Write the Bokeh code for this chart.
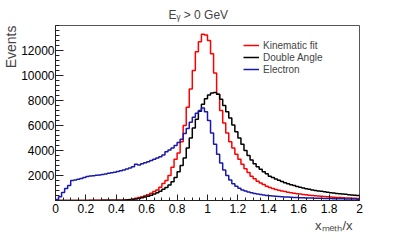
import numpy as np
from bokeh.plotting import figure
from bokeh.models import Range1d, FixedTicker, Legend, LegendItem, Title
from bokeh.embed import file_html
from bokeh.resources import INLINE

# ---- data ----
x_min, x_max, n_bins = 0.0, 2.0, 100

kinematic_fit = [
    2, 3, 3, 4, 5, 5, 6, 7, 8, 9,
    10, 11, 12, 13, 14, 15, 16, 18, 20, 22,
    25, 30, 40, 60, 90, 130, 180, 240, 300, 380,
    470, 580, 720, 850, 1070, 1360, 1600, 2000, 2670, 3300,
    3800, 4700, 6000, 7470, 8930, 10400, 11900, 12700, 13300, 13250,
    12800, 11750, 10200, 8500, 7200, 6200, 5400, 4700, 4200, 3700,
    3300, 2900, 2550, 2250, 1950, 1750, 1550, 1400, 1280, 1150,
    1050, 960, 890, 820, 770, 720, 670, 620, 580, 550,
    520, 490, 460, 430, 410, 390, 370, 350, 330, 310,
    290, 270, 250, 240, 230, 210, 200, 190, 180, 170,
]

double_angle = [
    1, 1, 2, 2, 3, 3, 4, 4, 5, 5,
    6, 7, 8, 9, 10, 11, 12, 13, 15, 17,
    20, 25, 30, 40, 60, 90, 130, 170, 220, 280,
    350, 430, 520, 620, 750, 900, 1050, 1250, 1500, 1850,
    2300, 2800, 3400, 4200, 5000, 5800, 6500, 7150, 7700, 8150,
    8450, 8600, 8650, 8500, 8100, 7600, 7100, 6600, 6050, 5500,
    5000, 4500, 4000, 3600, 3250, 2950, 2700, 2500, 2300, 2150,
    1950, 1850, 1720, 1620, 1520, 1420, 1340, 1270, 1200, 1130,
    1070, 1010, 950, 900, 850, 800, 760, 740, 700, 660,
    630, 600, 570, 540, 520, 500, 470, 450, 430, 410,
]

electron = [
    80, 300, 640, 960, 1200, 1600, 1650, 1700, 1760, 1850,
    1920, 1960, 1990, 2020, 2050, 2090, 2130, 2180, 2220, 2270,
    2320, 2380, 2440, 2520, 2600, 2700, 2900, 2850, 2950, 3020,
    3100, 3200, 3300, 3400, 3500, 3650, 3900, 4050, 4200, 4400,
    4650, 4900, 5360, 5760, 6270, 6670, 6990, 7200, 7400, 7100,
    6400, 5400, 4500, 3700, 3000, 2450, 2000, 1650, 1350, 1150,
    980, 850, 760, 680, 620, 560, 520, 480, 440, 410,
    380, 360, 340, 320, 300, 290, 275, 260, 250, 240,
    230, 220, 210, 200, 195, 190, 180, 175, 170, 160,
    155, 150, 145, 140, 135, 130, 125, 120, 115, 110,
]

series_labels = ["Kinematic fit", "Double Angle", "Electron"]
series_colors = ["#ff0000", "#000000", "#1a1aaa"]

x_ticks = [0, 0.2, 0.4, 0.6, 0.8, 1, 1.2, 1.4, 1.6, 1.8, 2]
x_tick_labels = ["0", "0.2", "0.4", "0.6", "0.8", "1", "1.2", "1.4", "1.6", "1.8", "2"]
y_ticks = [2000, 4000, 6000, 8000, 10000, 12000]
y_tick_labels = ["2000", "4000", "6000", "8000", "10000", "12000"]
y_max = 14000

title_text = "E\u1d67 > 0 GeV"
x_label = "x\u2098\u2091\u209c\u2095/x"
y_label = "Events"

# ---- figure ----
FONT = "Liberation Sans"
p = figure(width=391, height=242, output_backend="svg", toolbar_location=None,
           x_range=Range1d(x_min, x_max), y_range=Range1d(0, y_max),
           min_border_left=55, min_border_right=32, min_border_top=25,
           min_border_bottom=42)
p.frame_width = 304
p.frame_height = 175
p.background_fill_color = "white"
p.border_fill_color = "white"
p.outline_line_color = "#555555"
p.outline_line_width = 1
p.xgrid.visible = False
p.ygrid.visible = False

edges = np.linspace(x_min, x_max, n_bins + 1)
renderers = []
for vals, col in zip([kinematic_fit, double_angle, electron], series_colors):
    yv = list(vals) + [vals[-1]]
    r = p.step(x=edges, y=yv, mode="after", line_color=col, line_width=1.5)
    renderers.append(r)

# axes
xa = p.xaxis[0]
xa.ticker = FixedTicker(ticks=x_ticks, minor_ticks=list(np.round(np.arange(x_min, x_max + 1e-9, 0.05), 2)))
xa.major_label_overrides = {t: l for t, l in zip(x_ticks, x_tick_labels)}
ya = p.yaxis[0]
ya.ticker = FixedTicker(ticks=y_ticks, minor_ticks=list(np.arange(0, y_max + 1, 400)))
ya.major_label_overrides = {t: l for t, l in zip(y_ticks, y_tick_labels)}

for ax, tin, mtin in ((xa, 6, 3), (ya, 8, 4)):
    ax.major_tick_in = tin
    ax.major_tick_out = 0
    ax.minor_tick_in = mtin
    ax.minor_tick_out = 0
    ax.axis_line_color = "#222222"
    ax.major_tick_line_color = "#222222"
    ax.minor_tick_line_color = "#222222"
    ax.major_label_text_font = FONT
    ax.major_label_text_font_size = "12px"
    ax.major_label_text_color = "#000000"
xa.major_label_standoff = 3
ya.major_label_standoff = 1

# legend
legend = Legend(items=[LegendItem(label=lab, renderers=[r]) for lab, r in zip(series_labels, renderers)],
                location=(188, 125), glyph_width=16, glyph_height=12, label_height=12,
                spacing=0, padding=0, margin=0, label_standoff=4,
                label_text_font=FONT, label_text_font_size="10px",
                border_line_alpha=0, background_fill_alpha=0)
p.add_layout(legend)

# title (starts 113 px right of the frame's left edge)
p.title.text = title_text
p.title.align = "left"
p.title.offset = 113
p.title.standoff = 8
p.title.text_font = FONT
p.title.text_font_size = "12px"
p.title.text_font_style = "normal"

# x label (right aligned, below axis)
p.add_layout(Title(text=x_label, align="right", offset=7, standoff=0,
                   text_font=FONT, text_font_size="13px", text_font_style="normal"), "below")

# y label (top aligned, left of axis)
p.add_layout(Title(text=y_label, align="right", standoff=0,
                   text_font=FONT, text_font_size="14px", text_font_style="normal"), "left")

open("out.html", "w").write(file_html(p, INLINE))
